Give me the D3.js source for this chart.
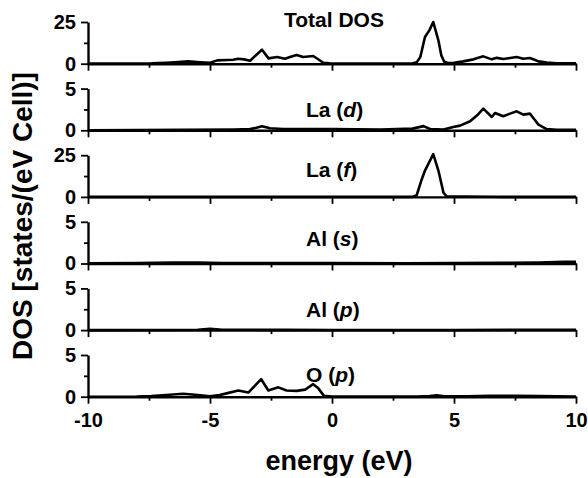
<!DOCTYPE html>
<html>
<head>
<meta charset="utf-8">
<script src="https://cdn.jsdelivr.net/npm/d3@7"></script>
<style>
  html, body { margin: 0; padding: 0; background: #fff; }
  svg text { font-family: "Liberation Sans", Arial, Helvetica, sans-serif; font-weight: bold; fill: #000; }
</style>
</head>
<body>
<svg id="chart" width="588" height="478"></svg>
<script>
// ---- data (energy in eV, DOS in states/(eV Cell)) ----
const panelNames = ["Total DOS", "La (d)", "La (f)", "Al (s)", "Al (p)", "O (p)"];
const panelMax = [25, 5, 25, 5, 5, 5];
const xMajorTicks = [-10, -5, 0, 5, 10];
const xMinorTicks = [-7.5, -2.5, 2.5, 7.5];

const totalDOS = [[-10,0.1],[-8,0.1],[-7.4,0.2],[-6.8,0.6],[-6.3,1.0],[-5.9,1.4],[-5.4,0.9],[-5.0,0.6],[-4.7,2.0],[-4.3,2.2],[-4.05,2.4],[-3.85,3.0],[-3.6,2.6],[-3.36,1.8],[-2.87,8.4],[-2.6,3.2],[-2.25,4.0],[-1.93,3.0],[-1.72,4.0],[-1.45,5.2],[-1.18,4.0],[-0.77,4.6],[-0.55,2.5],[-0.36,0.6],[-0.1,0.2],[1,0.1],[3.3,0.2],[3.47,0.8],[3.62,4],[3.81,16],[3.99,20],[4.15,25],[4.36,14],[4.48,5],[4.6,1.2],[4.75,0.4],[5.0,0.5],[5.38,1.4],[5.8,2.6],[6.2,4.4],[6.55,2.6],[6.75,3.5],[7.02,2.8],[7.3,3.4],[7.57,4.0],[7.84,3.0],[8.11,3.4],[8.3,2.4],[8.46,1.4],[8.8,0.7],[9.2,0.3],[10,0.3]];
const laD = [[-10,0],[-6,0.05],[-4,0.1],[-3.36,0.15],[-3.1,0.3],[-2.87,0.48],[-2.54,0.24],[-2,0.15],[-1,0.15],[0,0.15],[1,0.12],[2,0.1],[3.3,0.2],[3.75,0.5],[4.02,0.15],[4.57,0.1],[4.97,0.4],[5.25,0.56],[5.66,1.08],[5.95,1.8],[6.2,2.6],[6.55,1.6],[6.68,2.08],[7.02,1.68],[7.3,2.0],[7.57,2.28],[7.84,1.88],[8.11,2.0],[8.3,1.3],[8.46,0.68],[8.8,0.15],[9.2,0.05],[10,0.05]];
const laF = [[-10,0],[3.3,0],[3.47,1],[3.68,10.6],[3.81,15.8],[4.15,25.6],[4.36,15.8],[4.57,2.5],[4.7,0.3],[5.5,0.2],[6.5,0.1],[7,0],[10,0]];
const alS = [[-10,0.02],[-8,0.05],[-6.5,0.12],[-5.5,0.1],[-4.5,0.05],[-2,0.05],[0,0.05],[3,0.02],[5,0.05],[7,0.08],[8.5,0.12],[9.5,0.2],[10,0.2]];
const alP = [[-10,0],[-7,0.02],[-5.5,0.05],[-5,0.15],[-4.5,0.05],[-2,0.03],[0,0.02],[5,0.02],[8,0.05],[10,0.05]];
const oP = [[-10,0],[-8,0.02],[-7.4,0.08],[-6.8,0.2],[-6.1,0.36],[-5.5,0.2],[-5,0.05],[-4.6,0.2],[-4.32,0.4],[-3.84,0.75],[-3.43,0.5],[-2.9,2.1],[-2.61,0.75],[-2.2,1.12],[-1.86,0.75],[-1.45,0.7],[-1.1,0.85],[-0.77,1.5],[-0.56,1.0],[-0.33,0.1],[0,0.02],[3.5,0.02],[4.0,0.08],[4.29,0.18],[4.6,0.05],[5.5,0.05],[6.5,0.1],[7.5,0.12],[8.5,0.08],[10,0.02]];
const seriesData = [totalDOS, laD, laF, alS, alP, oP];

// ---- layout ----
const left = 88, right = 576;
const firstTop = 22, pitch = 66.6, panelH = 41.7;
const labelLayout = [
  {x: 334, anchor: "middle", dy: -36.7},
  {x: 306, anchor: "start", dy: -13},
  {x: 306, anchor: "start", dy: -19.6},
  {x: 306, anchor: "start", dy: -17.5},
  {x: 306, anchor: "start", dy: -13.4},
  {x: 306, anchor: "start", dy: -15}
];

const svg = d3.select("#chart");
const x = d3.scaleLinear().domain([-10, 10]).range([left, right]);
const line = (y) => d3.line().x(d => x(d[0])).y(d => y(d[1]));

function styleAxis(g) {
  g.selectAll("path.domain").attr("stroke", "#000").attr("stroke-width", 2.4);
  g.selectAll(".tick line").attr("stroke", "#000").attr("stroke-width", 1.8);
  g.selectAll(".tick text").style("font-size", "20px").attr("fill", "#000");
}

panelNames.forEach((name, i) => {
  const top = firstTop + i * pitch;
  const bottom = top + panelH;
  const y = d3.scaleLinear().domain([0, panelMax[i]]).range([bottom, top]);
  const isLast = i === panelNames.length - 1;

  // x axis (major + minor)
  const gxMinor = svg.append("g").attr("transform", `translate(0,${bottom})`)
    .call(d3.axisBottom(x).tickValues(xMinorTicks).tickSize(4).tickSizeOuter(0).tickFormat(""));
  gxMinor.select("path.domain").remove();
  styleAxis(gxMinor);
  const gx = svg.append("g").attr("transform", `translate(0,${bottom})`)
    .call(d3.axisBottom(x).tickValues(xMajorTicks).tickSize(7).tickSizeOuter(0).tickPadding(9)
      .tickFormat(isLast ? d3.format("d") : ""));
  styleAxis(gx);
  gx.selectAll(".tick text").text(d => isLast ? String(d).replace("\u2212", "-") : "");

  // y axis (major + minor)
  const gyMinor = svg.append("g").attr("transform", `translate(${left},0)`)
    .call(d3.axisLeft(y).tickValues([panelMax[i] / 2]).tickSize(4).tickSizeOuter(0).tickFormat(""));
  gyMinor.select("path.domain").remove();
  styleAxis(gyMinor);
  const gy = svg.append("g").attr("transform", `translate(${left},0)`)
    .call(d3.axisLeft(y).tickValues([0, panelMax[i]]).tickSize(7).tickSizeOuter(0).tickPadding(5).tickFormat(d3.format("d")));
  styleAxis(gy);

  // curve
  svg.append("path").datum(seriesData[i])
    .attr("fill", "none").attr("stroke", "#000").attr("stroke-width", 2.6)
    .attr("stroke-linejoin", "round")
    .attr("d", line(y));

  // label
  const L = labelLayout[i];
  const t = svg.append("text").attr("x", L.x).attr("y", bottom + L.dy)
    .attr("text-anchor", L.anchor).style("font-size", "21px");
  const m = name.match(/^(.*\()(.)(\))$/);
  if (m) {
    t.append("tspan").text(m[1]);
    t.append("tspan").style("font-style", "italic").text(m[2]);
    t.append("tspan").text(m[3]);
  } else {
    t.text(name);
  }
});

// axis titles
svg.append("text").attr("x", 339).attr("y", 470).attr("text-anchor", "middle")
  .style("font-size", "27px").text("energy (eV)");
svg.append("text").attr("transform", "translate(32,216) rotate(-90)").attr("text-anchor", "middle")
  .style("font-size", "28px").text("DOS [states/(eV Cell)]");
</script>
</body>
</html>
